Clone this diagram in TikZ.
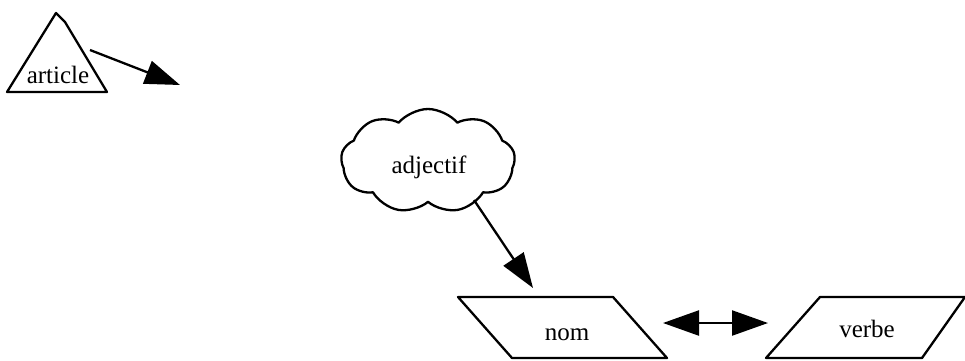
\documentclass[tikz,border=0pt]{standalone}
\usepackage{fontspec}
\setmainfont{Liberation Serif}
\usetikzlibrary{arrows.meta,shapes.symbols}
\begin{document}
\begin{tikzpicture}[x=1pt,y=-1pt, line width=2.3pt, line join=round,
  lbl/.style={font=\fontsize{25}{28}\selectfont, inner sep=0pt, anchor=base},
  big/.style={-{Triangle[length=35pt,width=24pt]}},
  dbl/.style={{Triangle[length=36pt,width=25pt]}-{Triangle[length=36pt,width=25pt]}},
  shapeline/.style={draw=black, line width=2.3pt}]
\useasboundingbox (0,0) rectangle (965,360);
% triangle "article"
\draw[shapeline] (56,13) -- (65,22) -- (107,92) -- (7,92) -- cycle;
\node[lbl] (article) at (58,83) {article};
\coordinate (artout) at (90,50);
\coordinate (artend) at (180,85);
\draw[big] (artout) -- (artend);
% cloud "adjectif"
\node[cloud, draw, cloud puffs=9, cloud puff arc=100, aspect=1.7,
      minimum width=174pt, minimum height=104pt, line width=2.3pt] (cloud) at (428,161) {};
\node[lbl] (adj) at (429,173) {adjectif};
\coordinate (adjout) at (474,200);
% nom
\draw[shapeline] (458,297) -- (613,297) -- (667,358) -- (512,358) -- cycle;
\node[lbl] (nom) at (567,340) {nom};
\coordinate (nomin) at (533,288);
\coordinate (nomr) at (663,323);
% verbe
\draw[shapeline] (820,297) -- (965,297) -- (922,358) -- (766,358) -- cycle;
\node[lbl] (verbe) at (867,337) {verbe};
\coordinate (verbl) at (768,323);
% connectors
\draw[big] (adjout) -- (nomin);
\draw[dbl] (nomr) -- (verbl);
\end{tikzpicture}
\end{document}
